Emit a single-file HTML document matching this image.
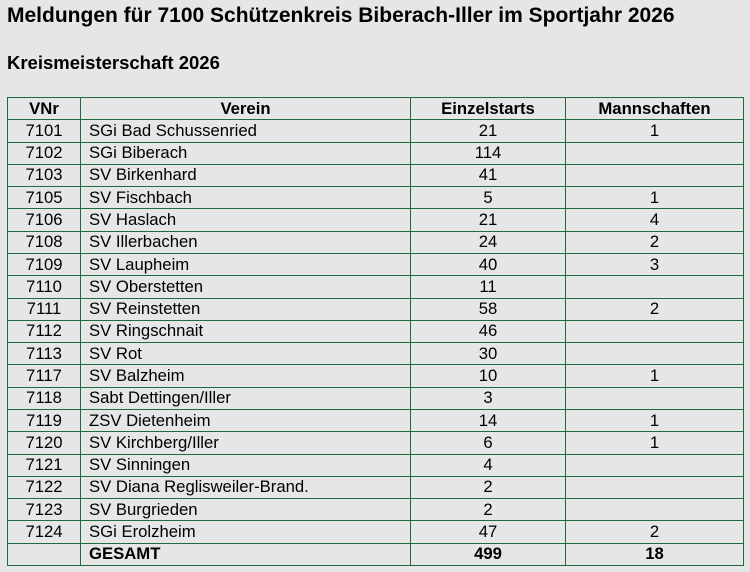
<!DOCTYPE html>
<html><head><meta charset="utf-8"><style>
body{margin:0;width:750px;height:572px;background:#e6e6e6;font-family:"Liberation Sans",Arial,sans-serif;color:#000;position:relative;overflow:hidden}
h1{position:absolute;left:7px;top:4px;margin:0;font-size:21px;font-weight:bold;white-space:nowrap}
h2{position:absolute;left:7px;top:52px;margin:0;font-size:18.5px;font-weight:bold}
table{position:absolute;left:7px;top:97px;width:736px;height:469px;border-collapse:collapse;font-size:16.7px;table-layout:fixed}
td,th{border:1px solid #1f6b3f;padding:0;height:21px;line-height:20px;text-align:center}
th{font-weight:bold}
td.l{text-align:left;padding-left:8px}
tr.g td{font-weight:bold}
</style></head><body>
<h1>Meldungen für 7100 Schützenkreis Biberach-Iller im Sportjahr 2026</h1>
<h2>Kreismeisterschaft 2026</h2>
<table>
<colgroup><col style="width:73px"><col style="width:330px"><col style="width:155px"><col style="width:178px"></colgroup>
<tr><th>VNr</th><th>Verein</th><th>Einzelstarts</th><th>Mannschaften</th></tr>
<tr><td>7101</td><td class="l">SGi Bad Schussenried</td><td>21</td><td>1</td></tr>
<tr><td>7102</td><td class="l">SGi Biberach</td><td>114</td><td></td></tr>
<tr><td>7103</td><td class="l">SV Birkenhard</td><td>41</td><td></td></tr>
<tr><td>7105</td><td class="l">SV Fischbach</td><td>5</td><td>1</td></tr>
<tr><td>7106</td><td class="l">SV Haslach</td><td>21</td><td>4</td></tr>
<tr><td>7108</td><td class="l">SV Illerbachen</td><td>24</td><td>2</td></tr>
<tr><td>7109</td><td class="l">SV Laupheim</td><td>40</td><td>3</td></tr>
<tr><td>7110</td><td class="l">SV Oberstetten</td><td>11</td><td></td></tr>
<tr><td>7111</td><td class="l">SV Reinstetten</td><td>58</td><td>2</td></tr>
<tr><td>7112</td><td class="l">SV Ringschnait</td><td>46</td><td></td></tr>
<tr><td>7113</td><td class="l">SV Rot</td><td>30</td><td></td></tr>
<tr><td>7117</td><td class="l">SV Balzheim</td><td>10</td><td>1</td></tr>
<tr><td>7118</td><td class="l">Sabt Dettingen/Iller</td><td>3</td><td></td></tr>
<tr><td>7119</td><td class="l">ZSV Dietenheim</td><td>14</td><td>1</td></tr>
<tr><td>7120</td><td class="l">SV Kirchberg/Iller</td><td>6</td><td>1</td></tr>
<tr><td>7121</td><td class="l">SV Sinningen</td><td>4</td><td></td></tr>
<tr><td>7122</td><td class="l">SV Diana Reglisweiler-Brand.</td><td>2</td><td></td></tr>
<tr><td>7123</td><td class="l">SV Burgrieden</td><td>2</td><td></td></tr>
<tr><td>7124</td><td class="l">SGi Erolzheim</td><td>47</td><td>2</td></tr>
<tr class="g"><td></td><td class="l">GESAMT</td><td>499</td><td>18</td></tr>
</table>
</body></html>
